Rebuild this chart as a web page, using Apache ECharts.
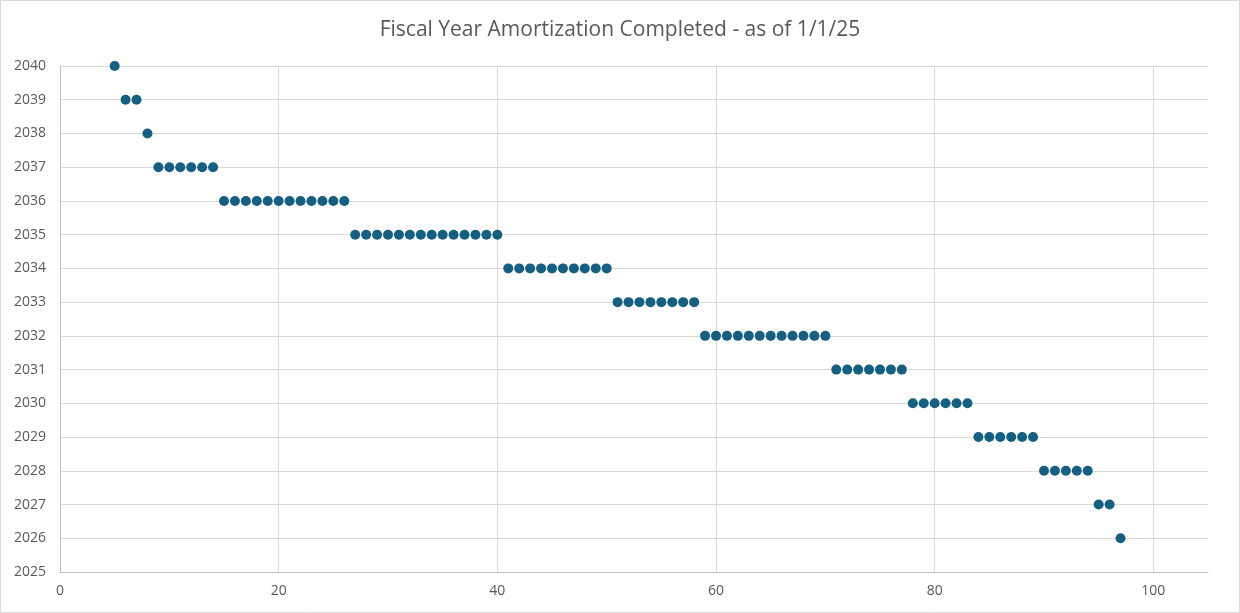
<!DOCTYPE html>
<html>
<head>
<meta charset="utf-8">
<script src="https://cdn.jsdelivr.net/npm/echarts@6/dist/echarts.min.js"></script>
<style>
  html, body { margin: 0; padding: 0; background: #fff; }
  #chart { width: 1240px; height: 613px; }
</style>
</head>
<body>
<div id="chart"></div>
<script>
const titleText = 'Fiscal Year Amortization Completed - as of 1/1/25';

// x position of each point and the fiscal year it completes
const xValues = [
  5,
  6, 7,
  8,
  9, 10, 11, 12, 13, 14,
  15, 16, 17, 18, 19, 20, 21, 22, 23, 24, 25, 26,
  27, 28, 29, 30, 31, 32, 33, 34, 35, 36, 37, 38, 39, 40,
  41, 42, 43, 44, 45, 46, 47, 48, 49, 50,
  51, 52, 53, 54, 55, 56, 57, 58,
  59, 60, 61, 62, 63, 64, 65, 66, 67, 68, 69, 70,
  71, 72, 73, 74, 75, 76, 77,
  78, 79, 80, 81, 82, 83,
  84, 85, 86, 87, 88, 89,
  90, 91, 92, 93, 94,
  95, 96,
  97
];
const yearValues = [
  2040,
  2039, 2039,
  2038,
  2037, 2037, 2037, 2037, 2037, 2037,
  2036, 2036, 2036, 2036, 2036, 2036, 2036, 2036, 2036, 2036, 2036, 2036,
  2035, 2035, 2035, 2035, 2035, 2035, 2035, 2035, 2035, 2035, 2035, 2035, 2035, 2035,
  2034, 2034, 2034, 2034, 2034, 2034, 2034, 2034, 2034, 2034,
  2033, 2033, 2033, 2033, 2033, 2033, 2033, 2033,
  2032, 2032, 2032, 2032, 2032, 2032, 2032, 2032, 2032, 2032, 2032, 2032,
  2031, 2031, 2031, 2031, 2031, 2031, 2031,
  2030, 2030, 2030, 2030, 2030, 2030,
  2029, 2029, 2029, 2029, 2029, 2029,
  2028, 2028, 2028, 2028, 2028,
  2027, 2027,
  2026
];

const points = xValues.map((x, i) => [x, yearValues[i]]);

const chart = echarts.init(document.getElementById('chart'));
const textFont = '"Open Sans", "Liberation Sans", sans-serif';

chart.setOption({
  animation: false,
  backgroundColor: '#ffffff',
  textStyle: { fontFamily: textFont },
  title: {
    text: titleText,
    left: 'center',
    top: 15,
    textStyle: { fontSize: 21, fontWeight: 'normal', color: '#595959', fontFamily: textFont }
  },
  graphic: [{
    type: 'rect',
    shape: { x: 0.5, y: 0.5, width: 1239, height: 612 },
    style: { fill: 'none', stroke: '#d9d9d9', lineWidth: 1 },
    silent: true
  }],
  grid: { left: 60, right: 32, top: 66, bottom: 41 },
  xAxis: {
    type: 'value',
    min: 0,
    max: 105,
    interval: 20,
    axisLine: { show: true, lineStyle: { color: '#bfbfbf', width: 1 } },
    axisTick: { show: false },
    axisLabel: { color: '#595959', fontSize: 14, margin: 12, showMaxLabel: false },
    splitLine: { show: true, showMinLine: false, showMaxLine: false, lineStyle: { color: '#d9d9d9', width: 1 } }
  },
  yAxis: {
    type: 'value',
    min: 2025,
    max: 2040,
    interval: 1,
    axisLine: { show: true, lineStyle: { color: '#bfbfbf', width: 1 } },
    axisTick: { show: false },
    axisLabel: { color: '#595959', fontSize: 14, margin: 14, formatter: v => String(v) },
    splitLine: { show: true, showMinLine: false, lineStyle: { color: '#d9d9d9', width: 1 } }
  },
  series: [{
    type: 'scatter',
    data: points,
    symbol: 'circle',
    symbolSize: 10,
    itemStyle: { color: '#156082', opacity: 1 }
  }]
});
</script>
</body>
</html>
